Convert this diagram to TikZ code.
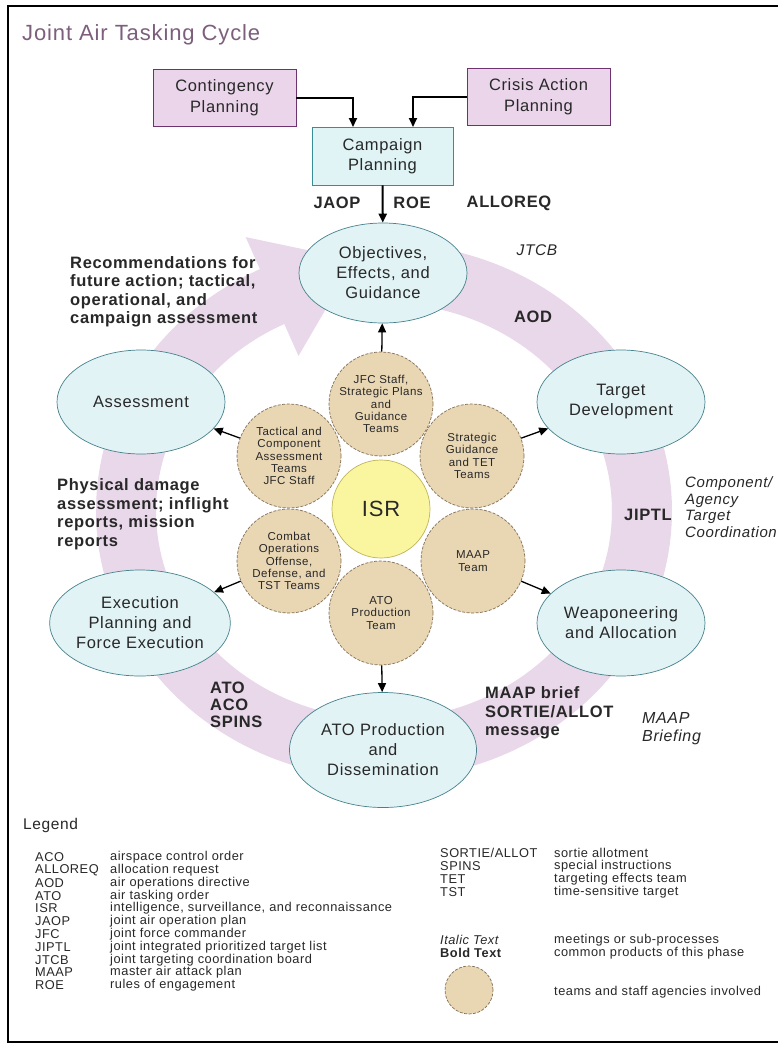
\documentclass[tikz,border=0pt]{standalone}
\usepackage{fontspec}
\setmainfont{Liberation Sans}[LetterSpace=4]
\usetikzlibrary{shapes.geometric,arrows.meta}
\definecolor{txt}{RGB}{40,40,40}
\definecolor{titlec}{RGB}{125,95,125}
\definecolor{bandc}{RGB}{233,215,234}
\definecolor{ellf}{RGB}{226,243,246}
\definecolor{elld}{RGB}{70,130,140}
\definecolor{boxpf}{RGB}{234,213,234}
\definecolor{boxpd}{RGB}{110,50,110}
\definecolor{boxcf}{RGB}{224,244,246}
\definecolor{boxcd}{RGB}{60,140,150}
\definecolor{petf}{RGB}{233,215,180}
\definecolor{petd}{RGB}{130,110,85}
\definecolor{isrf}{RGB}{250,246,160}
\definecolor{isrd}{RGB}{190,180,90}
\begin{document}
\begin{tikzpicture}[x=1pt,y=-1pt,
  every node/.style={inner sep=0pt,text=txt},
  ell/.style={ellipse,draw=elld,fill=ellf,line width=0.7pt,minimum width=168pt,minimum height=104pt,align=center,font=\fontsize{16.5}{20}\selectfont},
  pbox/.style={rectangle,draw=boxpd,fill=boxpf,line width=0.8pt,minimum width=143pt,minimum height=57pt,align=center,font=\fontsize{16.5}{21}\selectfont},
  cbox/.style={rectangle,draw=boxcd,fill=boxcf,line width=0.8pt,minimum width=141pt,minimum height=58pt,align=center,font=\fontsize{16.5}{20}\selectfont},
  petal/.style={circle,draw=petd,fill=petf,line width=0.7pt,dash pattern=on 3pt off 1.5pt,minimum size=104pt,align=center,font=\fontsize{11.5}{12.4}\selectfont},
  bl/.style={font=\bfseries\fontsize{16.5}{18.5}\selectfont,align=left},
  il/.style={font=\itshape\fontsize{15.5}{17}\selectfont,align=left},
  leg/.style={font=\fontsize{12.8}{13}\selectfont,anchor=west},
  arr/.style={-{Triangle[width=8pt,length=9pt]},line width=2pt,draw=black},
  parr/.style={-{Triangle[width=8pt,length=9pt]},line width=1.3pt,draw=black}]
\useasboundingbox (0,0) rectangle (778,1047);
\fill[white] (0,0) rectangle (778,1047);
% frame
\draw[line width=2.5pt] (778,6) -- (8,6) -- (8,1042) -- (778,1042);
% cycle band
\draw[bandc,line width=60pt,line join=round] plot[domain=-90:246,samples=150] ({384+258*cos(\x)},{511+238*sin(\x)});
\fill[bandc] (245.7,237.1) -- (354.4,260) -- (298.5,355.9) -- cycle;
% title
\node[anchor=base west,font=\fontsize{22}{26}\selectfont,text=titlec] (title) at (22,40) {Joint Air Tasking Cycle};
% planning boxes
\node[pbox] (cont) at (224.5,97.5) {Contingency\\Planning};
\node[pbox] (crisis) at (538.5,97) {Crisis Action\\Planning};
\node[cbox] (camp) at (382.5,156) {Campaign\\Planning};
\coordinate (ca) at (353,127);
\coordinate (cb) at (413,127);
\draw[arr] (cont.east) -| (ca);
\draw[arr] (crisis.west) -| (cb);
% phase ellipses
\node[ell,minimum height=100pt] (obj) at (383,273) {Objectives,\\Effects, and\\Guidance};
\node[ell] (tgt) at (621,402) {Target\\Development};
\node[ell,minimum height=106pt] (weap) at (621,623) {Weaponeering\\and Allocation};
\node[ell,minimum width=187pt,minimum height=115pt] (atop) at (383,750) {ATO Production\\and\\Dissemination};
\node[ell,minimum height=106pt] (exec) at (140,623) {Execution\\Planning and\\Force Execution};
\node[ell] (assess) at (141,402) {Assessment};
\draw[arr] (camp) -- (obj);
% teams
\node[circle,draw=isrd,fill=isrf,line width=0.7pt,minimum size=98pt,font=\fontsize{22}{24}\selectfont] (isr) at (381,509) {ISR};
\node[petal] (pjfc) at (381,404) {JFC Staff,\\Strategic Plans\\and\\Guidance\\Teams};
\node[petal] (ptac) at (289,456) {Tactical and\\Component\\Assessment\\Teams\\JFC Staff};
\node[petal] (pstrat) at (472,456) {Strategic\\Guidance\\and TET\\Teams};
\node[petal] (pcomb) at (289,561) {Combat\\Operations\\Offense,\\Defense, and\\TST Teams};
\node[petal] (pmaap) at (473,561) {MAAP\\Team};
\node[petal] (patot) at (381,613) {ATO\\Production\\Team};
\draw[parr] (pjfc) -- (obj);
\draw[parr] (ptac) -- (assess);
\draw[parr] (pstrat) -- (tgt);
\draw[parr] (pcomb) -- (exec);
\draw[parr] (pmaap) -- (weap);
\draw[parr] (patot) -- (atop);
% products and meetings
\node[bl] (jaop) at (337,203) {JAOP};
\node[bl] (roe) at (412,203) {ROE};
\node[bl] (alloreq) at (509,203) {ALLOREQ};
\node[il] (jtcb) at (537,250) {JTCB};
\node[bl] (aod) at (533,317) {AOD};
\node[bl,anchor=west] (recom) at (70,292) {Recommendations for\\future action; tactical,\\operational, and\\campaign assessment};
\node[bl] (jiptl) at (648,515) {JIPTL};
\node[il,anchor=west,font=\itshape\fontsize{15}{16.5}\selectfont] (comp) at (685,507) {Component/\\Agency\\Target\\Coordination};
\node[bl,anchor=west] (phys) at (57,514) {Physical damage\\assessment; inflight\\reports, mission\\reports};
\node[bl,anchor=west,font=\bfseries\fontsize{16.5}{17}\selectfont] (atoaco) at (210,705) {ATO\\ACO\\SPINS};
\node[bl,anchor=west] (maapb) at (485,713) {MAAP brief\\SORTIE/ALLOT\\message};
\node[il,anchor=west,font=\itshape\fontsize{16}{18}\selectfont] (maapbr) at (642,729) {MAAP\\Briefing};
% legend
\node[anchor=west,font=\fontsize{15.5}{18}\selectfont] (legend) at (23,825) {Legend};
\node[leg] (la1) at (35,857) {ACO};      \node[leg] (ld1) at (110,857) {airspace control order};
\node[leg] (la2) at (35,870) {ALLOREQ};  \node[leg] (ld2) at (110,870) {allocation request};
\node[leg] (la3) at (35,883) {AOD};      \node[leg] (ld3) at (110,883) {air operations directive};
\node[leg] (la4) at (35,896) {ATO};      \node[leg] (ld4) at (110,896) {air tasking order};
\node[leg] (la5) at (35,908) {ISR};      \node[leg] (ld5) at (110,908) {intelligence, surveillance, and reconnaissance};
\node[leg] (la6) at (35,921) {JAOP};     \node[leg] (ld6) at (110,921) {joint air operation plan};
\node[leg] (la7) at (35,934) {JFC};      \node[leg] (ld7) at (110,934) {joint force commander};
\node[leg] (la8) at (35,947) {JIPTL};    \node[leg] (ld8) at (110,947) {joint integrated prioritized target list};
\node[leg] (la9) at (35,960) {JTCB};     \node[leg] (ld9) at (110,960) {joint targeting coordination board};
\node[leg] (la10) at (35,972) {MAAP};    \node[leg] (ld10) at (110,972) {master air attack plan};
\node[leg] (la11) at (35,985) {ROE};     \node[leg] (ld11) at (110,985) {rules of engagement};
\node[leg] (lb1) at (440,853) {SORTIE/ALLOT}; \node[leg] (le1) at (554,853) {sortie allotment};
\node[leg] (lb2) at (440,866) {SPINS};        \node[leg] (le2) at (554,866) {special instructions};
\node[leg] (lb3) at (440,879) {TET};          \node[leg] (le3) at (554,879) {targeting effects team};
\node[leg] (lb4) at (440,892) {TST};          \node[leg] (le4) at (554,892) {time-sensitive target};
\node[leg,font=\itshape\fontsize{12.8}{13}\selectfont] (lb5) at (440,940) {Italic Text}; \node[leg] (le5) at (554,940) {meetings or sub-processes};
\node[leg,font=\bfseries\fontsize{12.8}{13}\selectfont] (lb6) at (440,953) {Bold Text}; \node[leg] (le6) at (554,953) {common products of this phase};
\node[petal,minimum size=48pt] (lcirc) at (469,990) {};
\node[leg] (le7) at (554,992) {teams and staff agencies involved};
\end{tikzpicture}
\end{document}
